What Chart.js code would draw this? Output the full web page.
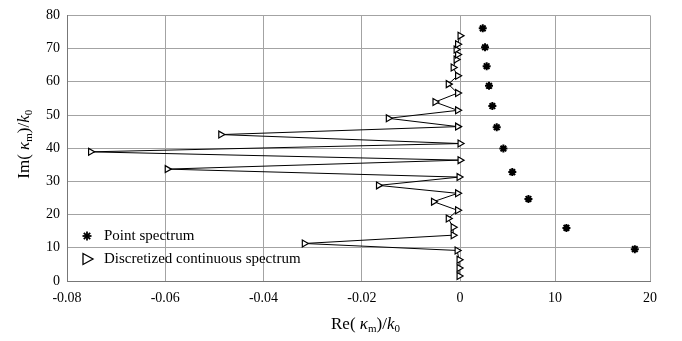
<!DOCTYPE html>
<html>
<head>
<meta charset="utf-8">
<script src="https://cdn.jsdelivr.net/npm/chart.js@4/dist/chart.umd.min.js"></script>
<style>
  body { margin: 0; background: #fff; }
  #wrap { width: 682px; height: 341px; position: relative; }
</style>
</head>
<body>
<div id="wrap"><canvas id="myChart"></canvas></div>
<script>
// discretized continuous spectrum (Re, Im), in order of Im
let contIm = [1.5, 3.9, 6.4, 9.2, 11.3, 13.8, 16.2, 18.8, 21.3, 23.9, 26.4, 28.8, 31.3, 33.7, 36.4, 38.9, 41.4, 44.1, 46.5, 49.0, 51.4, 53.9, 56.6, 59.3, 61.8, 64.3, 66.7, 68.2, 69.7, 71.3, 73.9];
let contRe = [-0.0002, -0.0002, -0.0002, -0.0006, -0.0317, -0.0014, -0.0014, -0.0024, -0.0005, -0.0054, -0.0005, -0.0166, -0.0002, -0.0596, 0.0, -0.0752, 0.0, -0.0487, -0.0005, -0.0146, -0.0005, -0.0051, -0.0005, -0.0024, -0.0005, -0.0014, -0.0008, -0.0005, -0.0008, -0.0005, 0.0];
// point spectrum
let pointIm = [9.6, 16.0, 24.7, 32.8, 39.9, 46.3, 52.7, 58.8, 64.7, 70.4, 76.1];
let pointRe = [18.4, 11.2, 7.2, 5.5, 4.56, 3.86, 3.4, 3.05, 2.8, 2.63, 2.39];

let xTickValues = [-0.08, -0.06, -0.04, -0.02, 0, 10, 20];
let xTickLabels = ['-0.08', '-0.06', '-0.04', '-0.02', '0', '10', '20'];
let yTicks = [0, 10, 20, 30, 40, 50, 60, 70, 80];

// broken x axis: left part in steps of 0.02, right part in steps of 10
const rightScale = 95 / 98.3;
function toAxis(v) {
    return v <= 0 ? v / 0.02 : v / 10 * rightScale;
}

const FONT = 'Liberation Serif';

function drawRich(ctx, parts, x, y, angle) {
    ctx.save();
    ctx.translate(x, y);
    ctx.rotate(angle);
    ctx.textBaseline = 'middle';
    ctx.textAlign = 'left';
    let total = 0;
    parts.forEach(p => {
        ctx.font = p.font;
        total += ctx.measureText(p.t).width;
    });
    let cx = -total / 2;
    parts.forEach(p => {
        ctx.font = p.font;
        ctx.fillStyle = '#000';
        ctx.fillText(p.t, cx, p.dy || 0);
        cx += ctx.measureText(p.t).width;
    });
    ctx.restore();
}

function titleParts(prefix) {
    return [
        { t: prefix + '( ', font: '17px "' + FONT + '"' },
        { t: 'κ', font: 'italic 17px "' + FONT + '"' },
        { t: 'm', font: '11px "' + FONT + '"', dy: 4 },
        { t: ')/', font: '17px "' + FONT + '"' },
        { t: 'k', font: 'italic 17px "' + FONT + '"' },
        { t: '0', font: '11px "' + FONT + '"', dy: 4 }
    ];
}

const extras = {
    id: 'extras',
    afterDraw(chart) {
        const ctx = chart.ctx;
        const a = chart.chartArea;
        drawRich(ctx, titleParts('Im'), 25, (a.top + a.bottom) / 2 - 4, -Math.PI / 2);
        drawRich(ctx, titleParts('Re'), (a.left + a.right) / 2 + 7, 325, 0);

        // legend inside the plot
        const lx = a.left + 20, ly1 = 236, ly2 = 259;
        ctx.save();
        ctx.strokeStyle = '#000';
        ctx.lineWidth = 1.8;
        const r = 4.5;
        for (let k = 0; k < 4; k++) {
            const ang = k * Math.PI / 4;
            ctx.beginPath();
            ctx.moveTo(lx - r * Math.cos(ang), ly1 - r * Math.sin(ang));
            ctx.lineTo(lx + r * Math.cos(ang), ly1 + r * Math.sin(ang));
            ctx.stroke();
        }
        ctx.lineWidth = 1.3;
        ctx.beginPath();
        ctx.moveTo(lx - 4, ly2 - 5.5);
        ctx.lineTo(lx + 6, ly2);
        ctx.lineTo(lx - 4, ly2 + 5.5);
        ctx.closePath();
        ctx.stroke();
        ctx.fillStyle = '#000';
        ctx.font = '15px "' + FONT + '"';
        ctx.textBaseline = 'middle';
        ctx.fillText(chart.data.datasets[1].label, lx + 17, ly1);
        ctx.fillText(chart.data.datasets[0].label, lx + 17, ly2);
        ctx.restore();
    }
};

const ctx = document.getElementById('myChart').getContext('2d');
const myChart = new Chart(ctx, {
    type: 'scatter',
    data: {
        datasets: [
            {
                label: 'Discretized continuous spectrum',
                data: contIm.map((im, i) => ({ x: toAxis(contRe[i]), y: im })),
                showLine: true,
                borderColor: '#000',
                borderWidth: 1,
                pointStyle: 'triangle',
                rotation: 90,
                pointRadius: 4,
                pointBorderWidth: 1.2,
                pointBackgroundColor: '#fff',
                pointBorderColor: '#000',
            },
            {
                label: 'Point spectrum',
                data: pointIm.map((im, i) => ({ x: toAxis(pointRe[i]), y: im })),
                showLine: false,
                pointStyle: 'star',
                pointRadius: 4,
                pointBorderWidth: 2,
                pointBorderColor: '#000',
                pointBackgroundColor: '#000',
            },
        ]
    },
    options: {
        responsive: true,
        maintainAspectRatio: false,
        animation: false,
        layout: { padding: { left: 0, top: 10, right: 32, bottom: 0 } },
        plugins: {
            legend: { display: false },
            tooltip: { enabled: false }
        },
        scales: {
            x: {
                type: 'linear',
                min: toAxis(-0.08),
                max: toAxis(20),
                afterBuildTicks: s => { s.ticks = xTickValues.map(v => ({ value: toAxis(v) })); },
                afterFit: s => { s.height = 60; },
                ticks: {
                    color: '#000',
                    font: { family: FONT, size: 14 },
                    padding: 9,
                    maxRotation: 0,
                    autoSkip: false,
                    callback: (v, i) => xTickLabels[i]
                },
                grid: { color: '#a3a3a3', lineWidth: 1, drawTicks: false },
                border: { color: '#777', width: 1 }
            },
            y: {
                min: 0,
                max: 80,
                afterBuildTicks: s => { s.ticks = yTicks.map(v => ({ value: v })); },
                afterFit: s => { s.width = 67; },
                ticks: {
                    color: '#000',
                    font: { family: FONT, size: 14 },
                    padding: 7
                },
                grid: { color: '#a3a3a3', lineWidth: 1, drawTicks: false },
                border: { color: '#777', width: 1 }
            }
        }
    },
    plugins: [extras]
});
</script>
</body>
</html>
